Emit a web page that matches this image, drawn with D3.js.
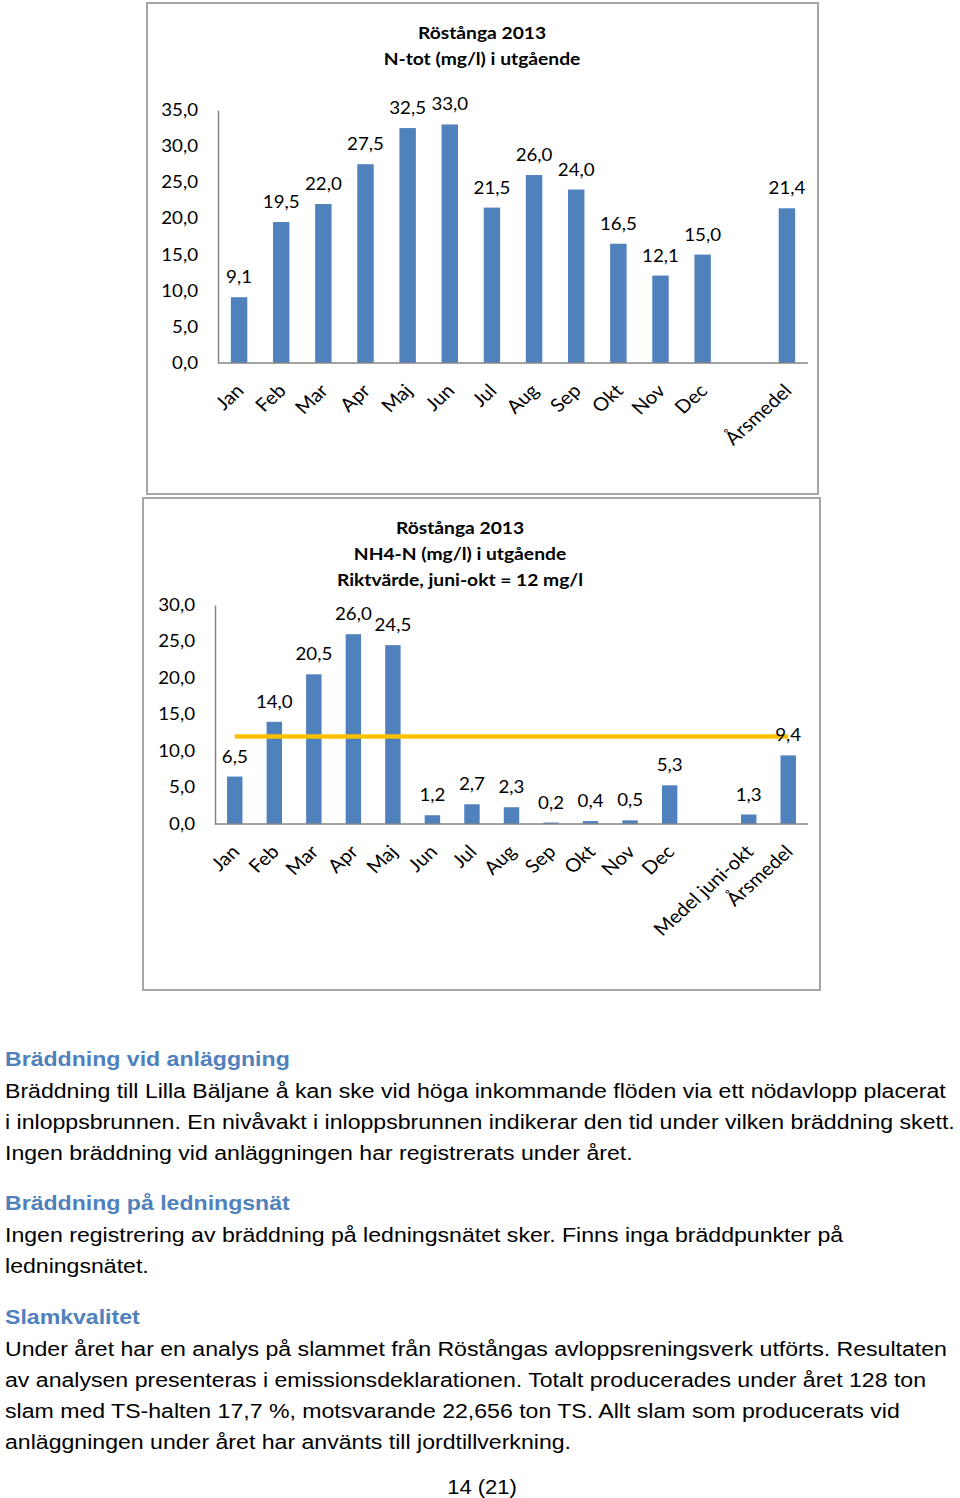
<!DOCTYPE html>
<html><head><meta charset="utf-8">
<script src="https://cdn.jsdelivr.net/npm/d3@7"></script>
<style>
html,body{margin:0;padding:0;background:#fff;}
svg{display:block;}
</style></head>
<body>
<svg id="page" width="960" height="1498"></svg>
<script>
// ---------- Data ----------
const ntotCategories = ["Jan","Feb","Mar","Apr","Maj","Jun","Jul","Aug","Sep","Okt","Nov","Dec"," ","Årsmedel"];
const ntotValues = [9.1,19.5,22.0,27.5,32.5,33.0,21.5,26.0,24.0,16.5,12.1,15.0,null,21.4];
const ntotTicks = [0,5,10,15,20,25,30,35];
const ntotTitle = ["Röstånga 2013","N-tot (mg/l) i utgående"];

const nh4Categories = ["Jan","Feb","Mar","Apr","Maj","Jun","Jul","Aug","Sep","Okt","Nov","Dec"," ","Medel juni-okt","Årsmedel"];
const nh4Values = [6.5,14.0,20.5,26.0,24.5,1.2,2.7,2.3,0.2,0.4,0.5,5.3,null,1.3,9.4];
const nh4Riktvarde = [12,12,12,12,12,12,12,12,12,12,12,12,12,12,12];
const nh4Ticks = [0,5,10,15,20,25,30];
const nh4Title = ["Röstånga 2013","NH4-N (mg/l) i utgående","Riktvärde, juni-okt = 12 mg/l"];

const sections = [
  {heading:"Bräddning vid anläggning", lines:[
    "Bräddning till Lilla Bäljane å kan ske vid höga inkommande flöden via ett nödavlopp placerat",
    "i inloppsbrunnen. En nivåvakt i inloppsbrunnen indikerar den tid under vilken bräddning skett.",
    "Ingen bräddning vid anläggningen har registrerats under året."]},
  {heading:"Bräddning på ledningsnät", lines:[
    "Ingen registrering av bräddning på ledningsnätet sker. Finns inga bräddpunkter på",
    "ledningsnätet."]},
  {heading:"Slamkvalitet", lines:[
    "Under året har en analys på slammet från Röstångas avloppsreningsverk utförts. Resultaten",
    "av analysen presenteras i emissionsdeklarationen. Totalt producerades under året 128 ton",
    "slam med TS-halten 17,7 %, motsvarande 22,656 ton TS. Allt slam som producerats vid",
    "anläggningen under året har använts till jordtillverkning."]}
];
const pageNumber = "14 (21)";

// ---------- Drawing ----------
const SX = 1.1; // the reference page is slightly stretched horizontally
const svg = d3.select("#page");
svg.append("rect").attr("width",960).attr("height",1498).attr("fill","#fff");

const BAR = "#4F81BD";
const FONT = "Lato, 'Open Sans', sans-serif";
const fmt = v => d3.format(".1f")(v).replace(".", ",");

// horizontal text, stretched in x around its anchor point
function htext(parent, x, y, str, anchor, font, size, weight, fill){
  return parent.append("text")
    .attr("transform",`translate(${x},${y}) scale(${SX},1)`)
    .attr("text-anchor",anchor).attr("font-family",font).attr("font-size",size)
    .attr("font-weight",weight).attr("fill",fill).text(str);
}

function drawChart(cfg){
  const g = svg.append("g");
  g.append("rect").attr("x",cfg.frame[0]).attr("y",cfg.frame[1])
    .attr("width",cfg.frame[2]-cfg.frame[0]).attr("height",cfg.frame[3]-cfg.frame[1])
    .attr("fill","#fff").attr("stroke","#a6a6a6").attr("stroke-width",2);
  cfg.title.forEach((t,i)=>{
    htext(g, cfg.titleX, cfg.titleY + i*26, t, "middle", FONT, 17.5, "bold", "#000");
  });
  const x = d3.scaleBand().domain(cfg.categories.map((c,i)=>i)).range([cfg.x0,cfg.x1]).paddingInner(0.61).paddingOuter(0.305);
  const y = d3.scaleLinear().domain([0,d3.max(cfg.ticks)]).range([cfg.y0,cfg.y1]);
  const ya = g.append("g").attr("transform",`translate(${cfg.x0},0)`)
    .call(d3.axisLeft(y).tickValues(cfg.ticks).tickFormat(fmt).tickSize(0).tickPadding(20));
  ya.select(".domain").attr("stroke","#868686").attr("stroke-width",1.5);
  ya.selectAll("text").attr("font-family",FONT).attr("font-size",17).attr("fill","#000")
    .attr("x",-20/SX).attr("transform",`scale(${SX},1)`);
  const data = cfg.values.map((v,i)=>({i,v})).filter(d=>d.v!=null);
  g.selectAll("rect.bar").data(data).join("rect").attr("class","bar")
    .attr("x",d=>x(d.i)).attr("width",x.bandwidth())
    .attr("y",d=>y(d.v)).attr("height",d=>cfg.y0-y(d.v)).attr("fill",BAR);
  g.append("line").attr("x1",cfg.x0).attr("x2",cfg.x1).attr("y1",cfg.y0).attr("y2",cfg.y0)
    .attr("stroke","#868686").attr("stroke-width",1.5);
  if(cfg.line){
    const ln = d3.line().x((d,i)=>x(i)+x.bandwidth()/2).y(d=>y(d));
    g.append("path").attr("d",ln(cfg.line)).attr("fill","none").attr("stroke","#FFC000").attr("stroke-width",4.5);
  }
  data.forEach(d=>{
    htext(g, x(d.i)+x.bandwidth()/2, y(d.v)-14, fmt(d.v), "middle", FONT, 17, "normal", "#000");
  });
  cfg.categories.forEach((c,i)=>{
    const ax = x(i)+x.bandwidth()/2+6, ay = cfg.y0+29;
    g.append("text")
      .attr("transform",`scale(${SX},1) translate(${ax/SX},${ay}) rotate(-45)`)
      .attr("text-anchor","end").attr("font-family",FONT).attr("font-size",18.5).attr("fill","#000")
      .text(c);
  });
}

drawChart({frame:[147,3,818,494], title:ntotTitle, titleX:482, titleY:39,
  categories:ntotCategories, values:ntotValues, ticks:ntotTicks,
  x0:218, x1:808, y0:363, y1:110});
drawChart({frame:[143,498,820,990], title:nh4Title, titleX:460, titleY:534,
  categories:nh4Categories, values:nh4Values, ticks:nh4Ticks, line:nh4Riktvarde,
  x0:215, x1:808, y0:824, y1:605});

// ---------- Text ----------
const TFONT = "'Liberation Sans', Arial, sans-serif";
const sectionY = [1066, 1210, 1324];
sections.forEach((s,k)=>{
  htext(svg, 5, sectionY[k], s.heading, "start", TFONT, 21, "bold", "#4F81BD");
  s.lines.forEach((l,j)=>{
    htext(svg, 5, sectionY[k]+32+j*31, l, "start", TFONT, 21, "normal", "#000");
  });
});
htext(svg, 482, 1494, pageNumber, "middle", TFONT, 20, "normal", "#000");
</script>
</body></html>
